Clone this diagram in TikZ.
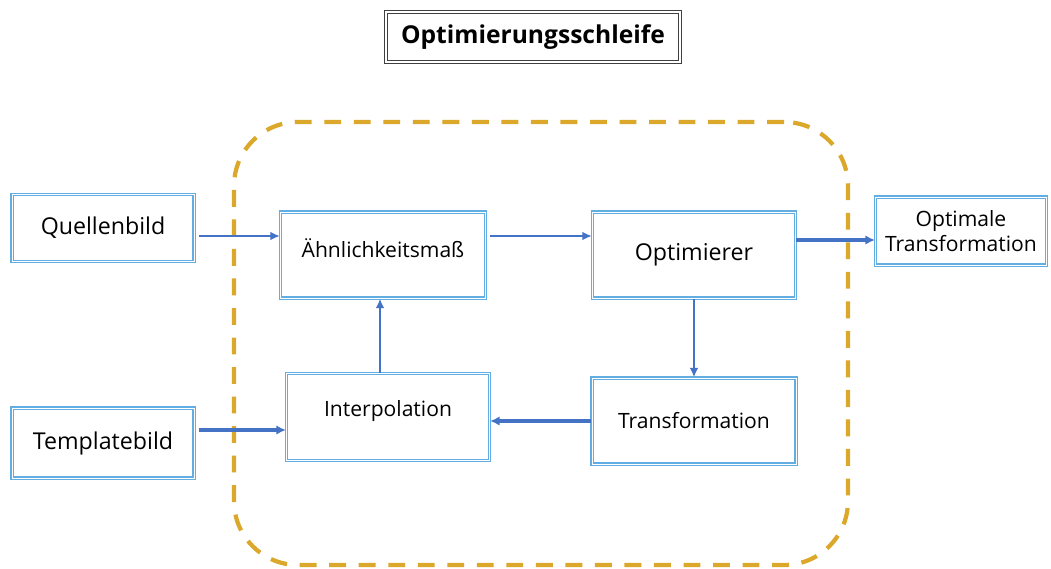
\documentclass[tikz,border=0pt]{standalone}
\usepackage{fontspec}
\setsansfont{Open Sans}
\usepackage{tikz}
\usetikzlibrary{arrows.meta,positioning,backgrounds}
\tikzstyle{every picture}+=[font=\sffamily]
\definecolor{rahmenblau}{HTML}{62ADE2}
\definecolor{pfeilblau}{HTML}{4472C4}
\definecolor{schleifengelb}{HTML}{DBA82C}

\begin{document}
\begin{tikzpicture}
				[x=0.25mm, y=-0.25mm, inner sep=0pt,
				block/.style		= {draw=rahmenblau, double, line width=0.9pt, double distance=0.7pt, fill=white, align=center},
				gross/.style		= {block, font=\sffamily\fontsize{16.5}{19}\selectfont},
				klein/.style		= {block, font=\sffamily\fontsize{15}{18}\selectfont},
				titel/.style		= {draw=black!75, double, line width=0.7pt, double distance=1.6pt, minimum width=73.5mm, minimum height=12.5mm, font=\sffamily\bfseries\fontsize{17.5}{20}\selectfont},
				schleife/.style		= {draw=schleifengelb, line width=3pt, dash pattern=on 12pt off 9pt, rounded corners=16mm, minimum width=153.5mm, minimum height=110.75mm},
				duenn/.style		= {draw=pfeilblau, line width=1.3pt, -{Latex[length=2.4mm, width=2.2mm]}},
				dick/.style			= {draw=pfeilblau, line width=2.2pt, -{Latex[length=2.4mm, width=2.4mm]}}]

				\useasboundingbox (0,0) rectangle (1051,569);

				\node [titel]		at (533,37)		(titel)		{Optimierungsschleife};
				\node [schleife]	at (541,343.5)	(schleife)	{};

				\node [gross, minimum width=45.5mm, minimum height=16.75mm]	at (103,228)	(quelle)	{Quellenbild};
				\node [gross, minimum width=45.5mm, minimum height=17.5mm]	at (103,443)	(template)	{Templatebild};
				\node [klein, minimum width=51.25mm, minimum height=21.5mm, text depth=3.5mm]	at (383,255)	(aehnl)		{Ähnlichkeitsmaß};
				\node [gross, minimum width=50.75mm, minimum height=21.5mm]	at (694,255)	(optim)		{Optimierer};
				\node [klein, minimum width=50.75mm, minimum height=21.75mm, text depth=4.5mm]	at (388,417)	(interp)	{Interpolation};
				\node [klein, minimum width=51mm, minimum height=21.5mm]	at (694,421)	(trafo)		{Transformation};
				\node [klein, minimum width=42.75mm, minimum height=17mm]	at (961,231)	(optimal)	{Optimale\\Transformation};

				\draw [duenn]	([yshift=-2mm]quelle.east) ++(1.2mm,0) -- ([yshift=-2mm]quelle.east -| aehnl.west);
				\draw [duenn]	([yshift=4.75mm]aehnl.east) ++(1mm,0) -- ([yshift=4.75mm]aehnl.east -| optim.west);
				\draw [dick]	([yshift=3.75mm]optim.east) -- ([yshift=3.75mm]optim.east -| optimal.west);
				\draw [duenn]	(optim.south) -- (trafo.north);
				\draw [dick]	(trafo.west) -- (trafo.west -| interp.east);
				\draw [duenn]	([xshift=-2mm]interp.north) -- ([xshift=-2mm]interp.north |- aehnl.south);
				\draw [dick]	([yshift=3.25mm]template.east) ++(1.2mm,0) -- ([yshift=3.25mm]template.east -| interp.west);
\end{tikzpicture}
\end{document}
